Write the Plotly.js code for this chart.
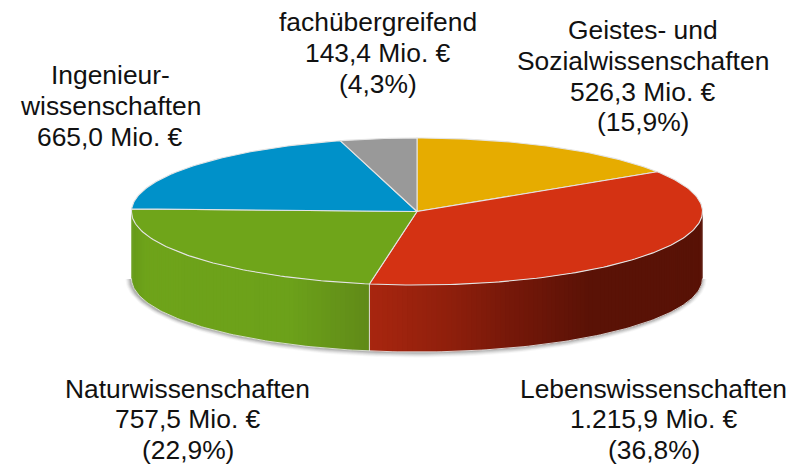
<!DOCTYPE html>
<html><head><meta charset="utf-8">
<script src="https://cdn.plot.ly/plotly-3.0.1.min.js"></script>
<style>html,body{margin:0;padding:0;background:#fff}#c{width:803px;height:465px}</style>
</head><body><div id="c"></div>
<script>
// Data, clockwise from 12 o'clock
const categories = [['Geistes- und','Sozialwissenschaften'],['Lebenswissenschaften'],['Naturwissenschaften'],['Ingenieur-','wissenschaften'],['fachübergreifend']];
const values = [526.3,1215.9,757.5,665.0,143.4];
const valueLabels = ['526,3 Mio. €','1.215,9 Mio. €','757,5 Mio. €','665,0 Mio. €','143,4 Mio. €'];
const shareLabels = ['(15,9%)','(36,8%)','(22,9%)','','(4,3%)'];
const topColors = ['#e6ac00','#d43213','#6fa51a','#0091c9','#999999'];
const labelX = [642.5,653.5,187.5,110,378];
const labelTop = [30,388.5,388.5,75,22];
const lineGap = 30.8;
const redStops = [[369,[168,38,15]],[450,[143,31,12]],[510,[118,24,9]],[590,[90,18,6]],[703,[88,18,6]]];
const greenStops = [[132,[102,155,25]],[146,[110,163,26]],[290,[108,161,26]],[369,[96,138,24]]];

const cx=417, cy=211.5, rx=285.5, ry=73.5, depth=67;
const total = values.reduce((a,b)=>a+b,0);
const px = t => cx+rx*Math.sin(t*Math.PI/180);
const py = (t,d=0) => cy-ry*Math.cos(t*Math.PI/180)+d;
function mix(stops,x){
  for(let i=1;i<stops.length;i++){
    if(x<=stops[i][0]){
      const [a,ca]=stops[i-1],[b,cb]=stops[i],f=Math.max(0,(x-a)/(b-a));
      return 'rgb('+ca.map((v,k)=>Math.round(v+(cb[k]-v)*f)).join(',')+')';
    }
  }
  const l=stops[stops.length-1][1];return 'rgb('+l.join(',')+')';
}
function range(a,b,step){const r=[];for(let t=a;t<b;t+=step)r.push(t);r.push(b);return r;}
const poly=(x,y,fill,lineColor,w)=>({type:'scatter',mode:'lines',x,y,fill:'toself',fillcolor:fill,
  line:{color:lineColor||fill,width:w===undefined?0:w},hoverinfo:'skip',showlegend:false});

const traces=[];
// soft shadow below the body
[[5,0.05],[4,0.07],[3,0.10],[2,0.14],[1,0.2]].forEach(([g,a])=>{
  const ts=range(90,270,2);
  const xs=ts.map(t=>cx+(rx+g)*Math.sin(t*Math.PI/180)-1);
  const ys=ts.map(t=>cy+depth-(ry+g)*Math.cos(t*Math.PI/180)+0.5);
  traces.push(poly(xs,ys,'rgba(90,90,90,'+a+')','rgba(0,0,0,0)',0));
});
// slice angles
const angles=[];let acc=0;values.forEach(v=>{const s=acc/total*360;acc+=v;angles.push([s,acc/total*360]);});
// side wall: red then green slice; each strip overlaps the next to hide seams
[[1,redStops],[2,greenStops]].forEach(([i,stops])=>{
  const a=Math.max(angles[i][0],90),b=Math.min(angles[i][1],270);
  const ts=range(a,b,1);
  for(let k=0;k<ts.length-1;k++){
    const t0=ts[k],t1=ts[k+1],t2=ts[Math.min(k+2,ts.length-1)];
    const c=mix(stops,(px(t0)+px(t1))/2);
    const arc=[t0,t1,t2];
    traces.push(poly([...arc.map(px),...arc.slice().reverse().map(px)],
      [...arc.map(t=>py(t)),...arc.slice().reverse().map(t=>py(t,depth))],c));
  }
});
// wall edges
const seam=angles[1][1];
traces.push({type:'scatter',mode:'lines',x:[px(seam),px(seam)],y:[py(seam),py(seam,depth)],line:{color:'rgba(235,235,235,0.9)',width:1},hoverinfo:'skip',showlegend:false});
const rimB=range(90,270,1);
traces.push({type:'scatter',mode:'lines',x:rimB.map(px),y:rimB.map(t=>py(t,depth)),line:{color:'rgba(225,225,225,0.9)',width:1},hoverinfo:'skip',showlegend:false});
// top slices
angles.forEach(([s,e],i)=>{
  const ts=range(s,e,1);
  traces.push(poly([cx,...ts.map(px),cx],[cy,...ts.map(t=>py(t)),cy],topColors[i],'#e4e4e4',1.1));
});
const annotations=[];
categories.forEach((c,i)=>{
  [...c,valueLabels[i],shareLabels[i]].filter(Boolean).forEach((line,j)=>{
    annotations.push({xref:'x',yref:'y',x:labelX[i],y:labelTop[i]+j*lineGap,showarrow:false,align:'center',xanchor:'center',yanchor:'middle',borderpad:0,
      text:line,font:{family:'"Liberation Sans",Arial,sans-serif',size:26.4,color:'#111'}});
  });
});
Plotly.newPlot('c',traces,{
  width:803,height:465,margin:{l:0,r:0,t:0,b:0},paper_bgcolor:'#fff',plot_bgcolor:'#fff',showlegend:false,
  xaxis:{range:[0,803],visible:false,fixedrange:true},
  yaxis:{range:[465,0],visible:false,fixedrange:true},
  annotations
},{staticPlot:true,displayModeBar:false});
</script></body></html>
